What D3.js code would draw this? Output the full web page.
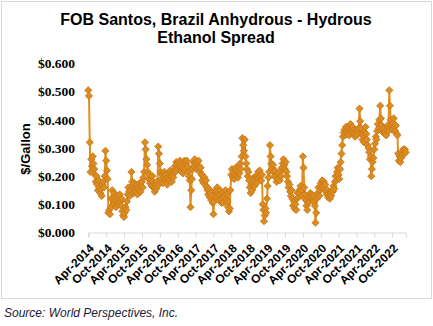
<!DOCTYPE html>
<html><head><meta charset="utf-8">
<script src="https://cdn.jsdelivr.net/npm/d3@7"></script>
<style>body{margin:0;background:#fff}svg{display:block}</style>
</head><body>
<script>
// Weekly readings (1st, 8th, 16th, 23rd of each month), $/gallon
const startYear = 2014, startMonth = 3; // April 2014
const weekDays = [1, 8, 16, 23];
const spread2014 = [
  0.505,0.485,0.320,0.215, 0.260,0.235,0.270,0.245, 0.225,0.205,0.180,0.200,
  0.170,0.150,0.185,0.160, 0.140,0.155,0.130,0.170, 0.180,0.160,0.200,0.290,
  0.255,0.220,0.190,0.070, 0.080,0.065,0.090,0.120, 0.150,0.125,0.105,0.140];
const spread2015 = [
  0.115,0.090,0.130,0.110, 0.125,0.100,0.135,0.110, 0.095,0.120,0.075,0.060,
  0.055,0.070,0.090,0.080, 0.110,0.135,0.160,0.145, 0.130,0.150,0.215,0.180,
  0.165,0.140,0.175,0.155, 0.145,0.170,0.135,0.160, 0.150,0.175,0.145,0.165,
  0.180,0.160,0.195,0.215, 0.320,0.295,0.260,0.240, 0.215,0.190,0.205,0.175];
const spread2016 = [
  0.185,0.165,0.200,0.180, 0.160,0.145,0.170,0.155, 0.180,0.165,0.305,0.280,
  0.245,0.215,0.190,0.205, 0.175,0.195,0.215,0.185, 0.205,0.180,0.170,0.195,
  0.210,0.185,0.220,0.200, 0.180,0.205,0.195,0.220, 0.235,0.215,0.250,0.240,
  0.225,0.250,0.235,0.255, 0.240,0.215,0.230,0.210, 0.235,0.255,0.225,0.245];
const spread2017 = [
  0.255,0.235,0.215,0.200, 0.185,0.090,0.150,0.190, 0.225,0.250,0.235,0.260,
  0.245,0.225,0.250,0.230, 0.255,0.235,0.215,0.230, 0.205,0.185,0.200,0.175,
  0.195,0.170,0.185,0.160, 0.150,0.135,0.155,0.125, 0.140,0.115,0.130,0.105,
  0.065,0.110,0.135,0.150, 0.125,0.160,0.140,0.115, 0.135,0.150,0.120,0.105];
const spread2018 = [
  0.140,0.125,0.105,0.130, 0.150,0.120,0.135,0.110, 0.090,0.075,0.085,0.150,
  0.205,0.225,0.195,0.215, 0.190,0.210,0.230,0.200, 0.220,0.195,0.235,0.210,
  0.245,0.225,0.270,0.335, 0.310,0.290,0.330,0.270, 0.245,0.225,0.200,0.215,
  0.185,0.160,0.140,0.170, 0.150,0.175,0.195,0.165, 0.185,0.200,0.175,0.195];
const spread2019 = [
  0.215,0.195,0.220,0.200, 0.185,0.205,0.100,0.080, 0.040,0.060,0.085,0.070,
  0.120,0.165,0.195,0.215, 0.310,0.270,0.245,0.225, 0.240,0.215,0.200,0.220,
  0.195,0.180,0.205,0.190, 0.210,0.185,0.220,0.200, 0.230,0.245,0.260,0.240,
  0.225,0.250,0.215,0.200, 0.180,0.160,0.170,0.145, 0.130,0.150,0.120,0.095];
const spread2020 = [
  0.110,0.085,0.100,0.080, 0.120,0.140,0.125,0.150, 0.140,0.165,0.150,0.130,
  0.270,0.230,0.160,0.135, 0.115,0.095,0.080,0.105, 0.125,0.110,0.140,0.120,
  0.135,0.115,0.130,0.110, 0.095,0.035,0.070,0.120, 0.140,0.160,0.130,0.150,
  0.175,0.160,0.185,0.165, 0.180,0.155,0.170,0.145, 0.135,0.150,0.125,0.140];
const spread2021 = [
  0.120,0.140,0.130,0.150, 0.145,0.165,0.155,0.180, 0.200,0.185,0.215,0.230,
  0.205,0.190,0.225,0.250, 0.280,0.310,0.340,0.355, 0.365,0.345,0.375,0.360,
  0.350,0.370,0.345,0.365, 0.385,0.370,0.355,0.375, 0.350,0.365,0.340,0.360,
  0.345,0.365,0.350,0.370, 0.440,0.395,0.370,0.350, 0.330,0.345,0.320,0.355];
const spread2022 = [
  0.375,0.350,0.330,0.310, 0.300,0.285,0.260,0.270, 0.200,0.225,0.250,0.265,
  0.295,0.315,0.340,0.330, 0.360,0.385,0.370,0.400, 0.450,0.405,0.380,0.365,
  0.355,0.370,0.350,0.360, 0.345,0.365,0.380,0.360, 0.505,0.450,0.400,0.380,
  0.365,0.390,0.405,0.375, 0.360,0.380,0.350,0.345, 0.280,0.255,0.270,0.250];
const spread2023 = [
  0.265,0.285,0.275,0.295, 0.280,0.295,0.285];

const yTicks = [0, 0.1, 0.2, 0.3, 0.4, 0.5, 0.6];
const xTickLabels = ["Apr-2014","Oct-2014","Apr-2015","Oct-2015","Apr-2016","Oct-2016","Apr-2017","Oct-2017","Apr-2018","Oct-2018","Apr-2019","Oct-2019","Apr-2020","Oct-2020","Apr-2021","Oct-2021","Apr-2022","Oct-2022"];
const titleLines = ["FOB Santos, Brazil Anhydrous - Hydrous", "Ethanol Spread"];
const yTitle = "$/Gallon";
const sourceText = "Source: World Perspectives, Inc.";

const values = [].concat(spread2014, spread2015, spread2016, spread2017, spread2018, spread2019, spread2020, spread2021, spread2022, spread2023);
const data = values.map((v, i) => ({
  date: new Date(startYear, startMonth + Math.floor(i / 4), weekDays[i % 4]),
  value: v
}));

const W = 433, H = 326;
const svg = d3.select("body").append("svg").attr("width", W).attr("height", H);

svg.append("rect").attr("x", 1.5).attr("y", 1.5).attr("width", 430).attr("height", 297)
  .attr("fill", "#fff").attr("stroke", "#d9d9d9").attr("stroke-width", 1);

svg.append("text").attr("x", 216).attr("y", 25).attr("text-anchor", "middle")
  .style("font", "bold 16px 'Liberation Sans', Arial, sans-serif").attr("fill", "#000")
  .selectAll("tspan").data(titleLines).join("tspan")
  .attr("x", 216).attr("dy", (d, i) => i === 0 ? 0 : 18).text(d => d);

const parse = d3.timeParse("%b-%Y");
const x = d3.scaleTime().domain([data[0].date, data[data.length - 1].date]).range([88.3, 405.7]);
const y = d3.scaleLinear().domain([0, 0.6]).range([232.5, 63.5]);

// Y axis
const yAxis = svg.append("g").attr("transform", "translate(88,0)")
  .call(d3.axisLeft(y).tickValues(yTicks).tickFormat(d => "$" + d.toFixed(3)).tickSize(0).tickPadding(13));
yAxis.select(".domain").remove();
yAxis.selectAll("text").style("font", "bold 13.5px 'Liberation Serif', 'Times New Roman', serif").attr("fill", "#000");

// X axis
const xAxis = svg.append("g").attr("transform", "translate(0,232.5)")
  .call(d3.axisBottom(x).tickValues(xTickLabels.map(parse)).tickFormat(d3.timeFormat("%b-%Y")).tickSizeOuter(0).tickSize(5));
xAxis.select(".domain").attr("stroke", "#d9d9d9");
xAxis.selectAll(".tick line").attr("stroke", "#d9d9d9");
xAxis.selectAll("text")
  .style("font", "bold 12px 'Liberation Sans', Arial, sans-serif").attr("fill", "#000")
  .attr("text-anchor", "end").attr("dy", null).attr("y", 0)
  .attr("transform", "translate(6,16.5) rotate(-45)");

// Y title
svg.append("text").attr("transform", "translate(30,149) rotate(-90)").attr("text-anchor", "middle")
  .style("font", "bold 13px 'Liberation Sans', Arial, sans-serif").attr("fill", "#000").text(yTitle);

// Series line
svg.append("path").datum(data)
  .attr("fill", "none").attr("stroke", "#E0901F").attr("stroke-width", 2)
  .attr("d", d3.line().x(d => x(d.date)).y(d => y(d.value)));

// Diamond markers
const sym = d3.symbol(d3.symbolSquare, 26);
svg.append("g").selectAll("path").data(data).join("path")
  .attr("d", sym)
  .attr("transform", d => `translate(${x(d.date)},${y(d.value)}) rotate(45)`)
  .attr("fill", "#DC8C1E").attr("stroke", "#C7771A").attr("stroke-width", 0.8);

// Source
svg.append("text").attr("x", 4).attr("y", 317)
  .style("font", "italic 12px 'Liberation Sans', Arial, sans-serif").attr("fill", "#1a1a3a").text(sourceText);
</script>
</body></html>
